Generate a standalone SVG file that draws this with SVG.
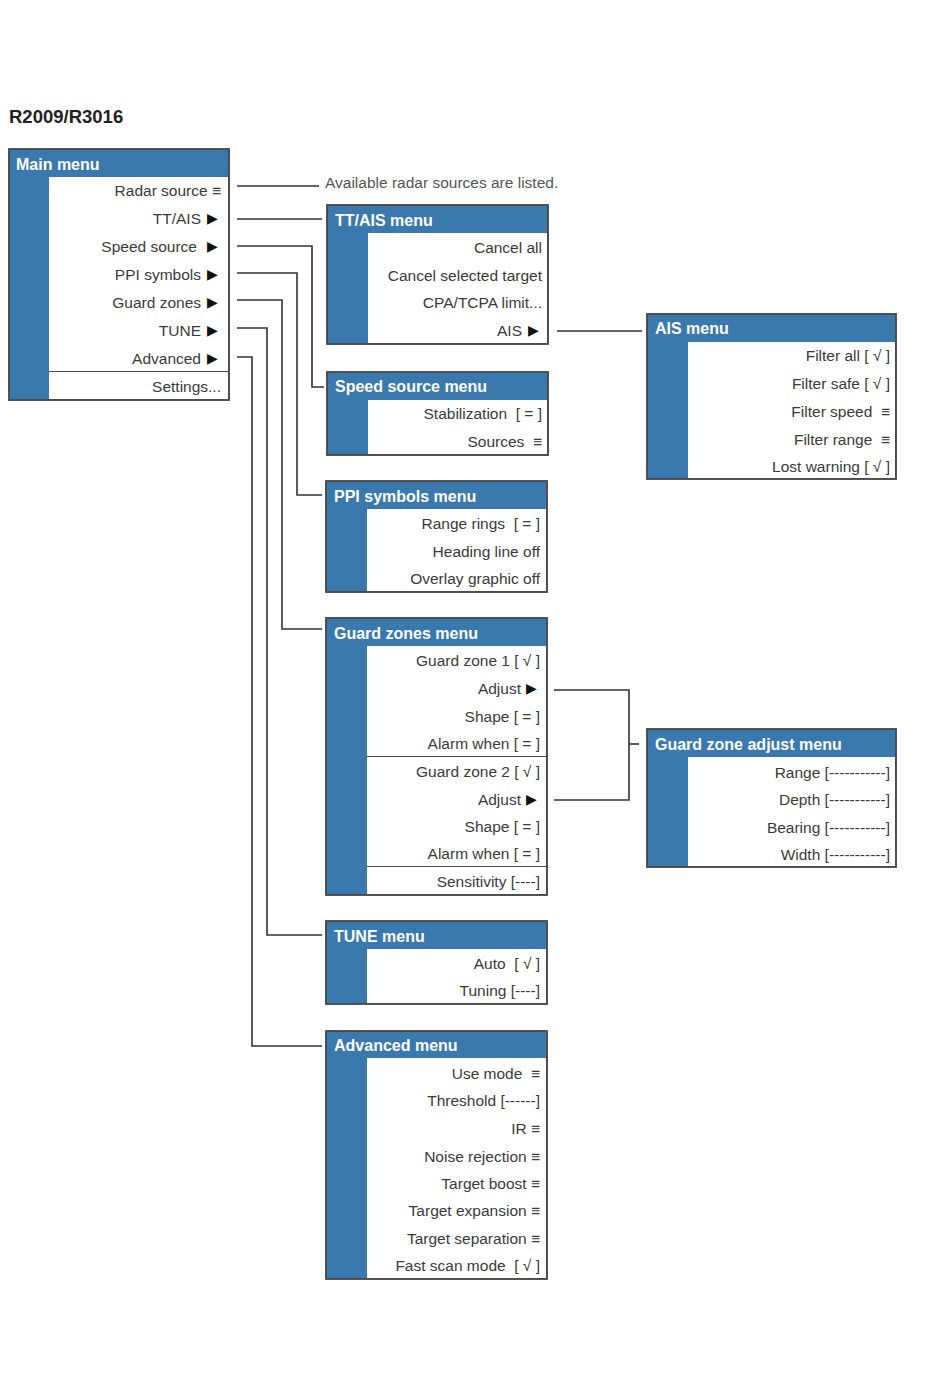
<svg xmlns="http://www.w3.org/2000/svg" width="950" height="1387" viewBox="0 0 950 1387">
<style>
.bx{fill:#3a79ad;stroke:#4a4a4a;stroke-width:1.5}
.wh{fill:#fff}
.ol{fill:none;stroke:#4a4a4a;stroke-width:1.5}
.sep{stroke:#4a4a4a;stroke-width:1.2}
.hd{font-family:"Liberation Sans",Arial,sans-serif;font-weight:bold;font-size:16px;fill:#fff}
.it{font-family:"Liberation Sans",Arial,sans-serif;font-size:15.5px;fill:#3a3a3a;text-anchor:end;white-space:pre}
.ar{font-family:"DejaVu Sans",sans-serif;font-size:14px;fill:#111}
.cn{fill:none;stroke:#333;stroke-width:1.6}
.note{font-family:"Liberation Sans",Arial,sans-serif;font-size:15.5px;fill:#555}
.title{font-family:"Liberation Sans",Arial,sans-serif;font-weight:bold;font-size:18.5px;fill:#222}
</style>
<rect width="950" height="1387" fill="#fff"/>
<text class="title" x="9" y="123">R2009/R3016</text>

<g id="connectors">
<polyline class="cn" points="237,186 319,186"/>
<polyline class="cn" points="237,219 322,219"/>
<polyline class="cn" points="237,246 312,246 312,387 324,387"/>
<polyline class="cn" points="237,273 297,273 297,495 322,495"/>
<polyline class="cn" points="237,300 282,300 282,629 322,629"/>
<polyline class="cn" points="237,328 267,328 267,935 322,935"/>
<polyline class="cn" points="237,357 252,357 252,1046 322,1046"/>
<polyline class="cn" points="557,331 642,331"/>
<polyline class="cn" points="554,690 629,690 629,800 554,800"/>
<polyline class="cn" points="629,744 639,744"/>
</g>
<text class="note" x="325" y="188">Available radar sources are listed.</text>

<g id="main-menu">
<rect class="bx" x="9" y="149" width="220" height="251"/>
<rect class="wh" x="49" y="177" width="179" height="222"/>
<line class="sep" x1="49" y1="371.5" x2="228" y2="371.5"/>
<rect class="ol" x="9" y="149" width="220" height="251"/>
<text class="hd" x="16" y="170">Main menu</text>
<text class="it" x="221" y="196">Radar source ≡</text>
<text class="it" x="201" y="224">TT/AIS</text><text class="ar" x="207" y="223">▶</text>
<text class="it" x="197" y="252">Speed source</text><text class="ar" x="207" y="251">▶</text>
<text class="it" x="201" y="280">PPI symbols</text><text class="ar" x="207" y="279">▶</text>
<text class="it" x="201" y="308">Guard zones</text><text class="ar" x="207" y="307">▶</text>
<text class="it" x="201" y="336">TUNE</text><text class="ar" x="207" y="335">▶</text>
<text class="it" x="201" y="364">Advanced</text><text class="ar" x="207" y="363">▶</text>
<text class="it" x="221" y="392">Settings...</text>
</g>

<g id="ttais-menu">
<rect class="bx" x="327" y="205" width="221" height="139"/>
<rect class="wh" x="368" y="233" width="179" height="110"/>
<rect class="ol" x="327" y="205" width="221" height="139"/>
<text class="hd" x="335" y="226">TT/AIS menu</text>
<text class="it" x="542" y="253">Cancel all</text>
<text class="it" x="542" y="281">Cancel selected target</text>
<text class="it" x="542" y="308">CPA/TCPA limit...</text>
<text class="it" x="522" y="336">AIS</text><text class="ar" x="528" y="335">▶</text>
</g>

<g id="speed-source-menu">
<rect class="bx" x="327" y="372" width="221" height="83"/>
<rect class="wh" x="368" y="400" width="179" height="54"/>
<rect class="ol" x="327" y="372" width="221" height="83"/>
<text class="hd" x="335" y="392">Speed source menu</text>
<text class="it" x="542" y="419">Stabilization  [ = ]</text>
<text class="it" x="542" y="447">Sources  ≡</text>
</g>

<g id="ais-menu">
<rect class="bx" x="647" y="314" width="249" height="165"/>
<rect class="wh" x="688" y="342" width="207" height="136"/>
<rect class="ol" x="647" y="314" width="249" height="165"/>
<text class="hd" x="655" y="334">AIS menu</text>
<text class="it" x="890" y="361">Filter all [ √ ]</text>
<text class="it" x="890" y="389">Filter safe [ √ ]</text>
<text class="it" x="890" y="417">Filter speed  ≡</text>
<text class="it" x="890" y="445">Filter range  ≡</text>
<text class="it" x="890" y="472">Lost warning [ √ ]</text>
</g>

<g id="ppi-symbols-menu">
<rect class="bx" x="326" y="481" width="221" height="111"/>
<rect class="wh" x="367" y="509" width="179" height="82"/>
<rect class="ol" x="326" y="481" width="221" height="111"/>
<text class="hd" x="334" y="502">PPI symbols menu</text>
<text class="it" x="540" y="529">Range rings  [ = ]</text>
<text class="it" x="540" y="557">Heading line off</text>
<text class="it" x="540" y="584">Overlay graphic off</text>
</g>

<g id="guard-zones-menu">
<rect class="bx" x="326" y="618" width="221" height="277"/>
<rect class="wh" x="367" y="646" width="179" height="248"/>
<line class="sep" x1="367" y1="756.5" x2="546" y2="756.5"/>
<line class="sep" x1="367" y1="866.5" x2="546" y2="866.5"/>
<rect class="ol" x="326" y="618" width="221" height="277"/>
<text class="hd" x="334" y="639">Guard zones menu</text>
<text class="it" x="540" y="666">Guard zone 1 [ √ ]</text>
<text class="it" x="521" y="694">Adjust</text><text class="ar" x="526" y="693">▶</text>
<text class="it" x="540" y="722">Shape [ = ]</text>
<text class="it" x="540" y="749">Alarm when [ = ]</text>
<text class="it" x="540" y="777">Guard zone 2 [ √ ]</text>
<text class="it" x="521" y="805">Adjust</text><text class="ar" x="526" y="804">▶</text>
<text class="it" x="540" y="832">Shape [ = ]</text>
<text class="it" x="540" y="859">Alarm when [ = ]</text>
<text class="it" x="540" y="887">Sensitivity [----]</text>
</g>

<g id="guard-zone-adjust-menu">
<rect class="bx" x="647" y="729" width="249" height="138"/>
<rect class="wh" x="688" y="757" width="207" height="109"/>
<rect class="ol" x="647" y="729" width="249" height="138"/>
<text class="hd" x="655" y="750">Guard zone adjust menu</text>
<text class="it" x="890" y="778">Range [-----------]</text>
<text class="it" x="890" y="805">Depth [-----------]</text>
<text class="it" x="890" y="833">Bearing [-----------]</text>
<text class="it" x="890" y="860">Width [-----------]</text>
</g>

<g id="tune-menu">
<rect class="bx" x="326" y="921" width="221" height="83"/>
<rect class="wh" x="367" y="949" width="179" height="54"/>
<rect class="ol" x="326" y="921" width="221" height="83"/>
<text class="hd" x="334" y="942">TUNE menu</text>
<text class="it" x="540" y="969">Auto  [ √ ]</text>
<text class="it" x="540" y="996">Tuning [----]</text>
</g>

<g id="advanced-menu">
<rect class="bx" x="326" y="1031" width="221" height="248"/>
<rect class="wh" x="367" y="1058" width="179" height="220"/>
<rect class="ol" x="326" y="1031" width="221" height="248"/>
<text class="hd" x="334" y="1051">Advanced menu</text>
<text class="it" x="540" y="1079">Use mode  ≡</text>
<text class="it" x="540" y="1106">Threshold [------]</text>
<text class="it" x="540" y="1134">IR ≡</text>
<text class="it" x="540" y="1162">Noise rejection ≡</text>
<text class="it" x="540" y="1189">Target boost ≡</text>
<text class="it" x="540" y="1216">Target expansion ≡</text>
<text class="it" x="540" y="1244">Target separation ≡</text>
<text class="it" x="540" y="1271">Fast scan mode  [ √ ]</text>
</g>
</svg>
